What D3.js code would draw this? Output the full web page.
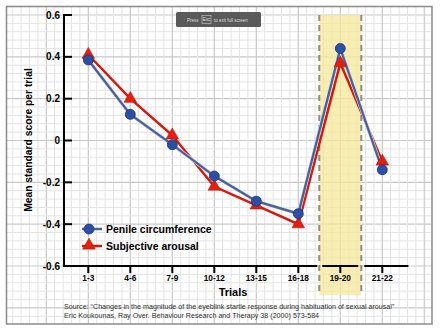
<!DOCTYPE html>
<html><head><meta charset="utf-8">
<script src="https://cdn.jsdelivr.net/npm/d3@7/dist/d3.min.js"></script>
<style>
html,body{margin:0;padding:0;background:#fff;}
svg{display:block;font-family:"Liberation Sans",Arial,sans-serif;}
</style></head>
<body>
<script>
const categories = ["1-3","4-6","7-9","10-12","13-15","16-18","19-20","21-22"];
const penile = [0.385, 0.125, -0.02, -0.17, -0.29, -0.35, 0.44, -0.14];
const subjective = [0.41, 0.20, 0.025, -0.22, -0.31, -0.40, 0.37, -0.10];
const yTicks = [0.6, 0.4, 0.2, 0, -0.2, -0.4, -0.6];
const seriesNames = ["Penile circumference", "Subjective arousal"];
const highlightIndex = 6;
const sourceLines = [
  "Source: \u201cChanges in the magnitude of the eyeblink startle response during habituation of sexual arousal\u201d",
  "Eric Koukounas, Ray Over. Behaviour Research and Therapy 38 (2000) 573-584"
];

const W = 443, H = 331;
const svg = d3.select("body").append("svg").attr("width", W).attr("height", H);

const x = d3.scaleLinear().domain([0, categories.length - 1]).range([88.3, 382.3]);
const y = d3.scaleLinear().domain([-0.6, 0.6]).range([266, 15]);
const step = x(1) - x(0);
const ystep = y(0) - y(0.2);

const fx0 = 6.5, fx1 = 432, fy0 = 6.5, fy1 = 324;
const grid = svg.append("g");
for (let k = -40; k <= 80; k++) {
  const gx = x(0) + k * step / 5;
  if (gx > fx0 && gx < fx1) grid.append("line").attr("x1", gx).attr("x2", gx).attr("y1", fy0).attr("y2", fy1)
    .attr("stroke", k % 5 === 0 ? "#c9c9c9" : "#e4e4e4").attr("stroke-width", k % 5 === 0 ? 1.2 : 1);
  const gy = y(0.6) + k * ystep / 5;
  if (gy > fy0 && gy < fy1) grid.append("line").attr("y1", gy).attr("y2", gy).attr("x1", fx0).attr("x2", fx1)
    .attr("stroke", k % 5 === 0 ? "#c9c9c9" : "#e4e4e4").attr("stroke-width", k % 5 === 0 ? 1.2 : 1);
}
svg.append("rect").attr("x", fx0).attr("y", fy0).attr("width", fx1 - fx0).attr("height", fy1 - fy0)
  .attr("fill", "none").attr("stroke", "#8a8a8a").attr("stroke-width", 1.5);

const bx0 = x(highlightIndex - 0.5), bx1 = x(highlightIndex + 0.5);
svg.append("rect").attr("x", bx0).attr("y", 15).attr("width", bx1 - bx0).attr("height", 280)
  .attr("fill", "#f6e89a").attr("opacity", 0.75);
[bx0, bx1].forEach(bx => svg.append("line").attr("x1", bx).attr("x2", bx).attr("y1", 15).attr("y2", 295)
  .attr("stroke", "#8c8c8c").attr("stroke-width", 2).attr("stroke-dasharray", "6,4"));

const ax = svg.append("g");
ax.append("line").attr("x1", 64).attr("x2", 64).attr("y1", y(0.6)).attr("y2", y(-0.6) + 1).attr("stroke", "#000").attr("stroke-width", 2);
const segs = [[64, x(5.5) - 2], [x(5.5) + 3, x(6.5) - 3], [x(6.5) + 3, x(7.62)]];
segs.forEach(s => ax.append("line").attr("x1", s[0]).attr("x2", s[1]).attr("y1", y(-0.6)).attr("y2", y(-0.6)).attr("stroke", "#000").attr("stroke-width", 2));
yTicks.forEach(t => {
  ax.append("line").attr("x1", 63).attr("x2", 72).attr("y1", y(t)).attr("y2", y(t)).attr("stroke", "#000").attr("stroke-width", 2);
  ax.append("text").attr("x", 60).attr("y", y(t) + 3.6).attr("text-anchor", "end")
    .attr("font-size", "10px").attr("font-weight", "bold").text(t === 0 ? "0" : t.toFixed(1));
});
categories.forEach((c, i) => {
  ax.append("line").attr("x1", x(i)).attr("x2", x(i)).attr("y1", y(-0.6)).attr("y2", y(-0.6) + 7).attr("stroke", "#000").attr("stroke-width", 2);
  ax.append("text").attr("x", x(i)).attr("y", 281).attr("text-anchor", "middle")
    .attr("font-size", "8.3px").attr("font-weight", "bold").text(c);
});
svg.append("text").attr("x", 233).attr("y", 296).attr("text-anchor", "middle")
  .attr("font-size", "11px").attr("font-weight", "bold").text("Trials");
svg.append("text").attr("transform", "translate(31.5,140) rotate(-90)").attr("text-anchor", "middle")
  .attr("font-size", "10.3px").attr("font-weight", "bold").text("Mean standard score per trial");

const line = d3.line().x((d, i) => x(i)).y(d => y(d));
svg.append("path").attr("d", line(subjective)).attr("fill", "none").attr("stroke", "#d41a10").attr("stroke-width", 2.5);
svg.append("path").attr("d", line(penile)).attr("fill", "none").attr("stroke", "#d6dbe8").attr("stroke-width", 3.6);
svg.append("path").attr("d", line(penile)).attr("fill", "none").attr("stroke", "#4b6298").attr("stroke-width", 2.3);
const tri = d3.symbol().type(d3.symbolTriangle).size(68);
svg.selectAll(".tri").data(subjective).enter().append("path")
  .attr("transform", (d, i) => `translate(${x(i)},${y(d)})`).attr("d", tri)
  .attr("fill", "#e3200f").attr("stroke", "#b8140a").attr("stroke-width", 0.6);
svg.selectAll(".dot").data(penile).enter().append("circle")
  .attr("cx", (d, i) => x(i)).attr("cy", d => y(d)).attr("r", 5)
  .attr("fill", "#2c4fa6").attr("stroke", "#1d3373").attr("stroke-width", 0.8);

const lg = svg.append("g");
lg.append("line").attr("x1", 82).attr("x2", 102).attr("y1", 229).attr("y2", 229).attr("stroke", "#4b6298").attr("stroke-width", 2.5);
lg.append("circle").attr("cx", 89).attr("cy", 229).attr("r", 5).attr("fill", "#2c4fa6").attr("stroke", "#1d3373").attr("stroke-width", 0.8);
lg.append("line").attr("x1", 82).attr("x2", 102).attr("y1", 246).attr("y2", 246).attr("stroke", "#d41a10").attr("stroke-width", 2.5);
lg.append("path").attr("transform", "translate(89,245.5)").attr("d", tri).attr("fill", "#e3200f").attr("stroke", "#b8140a").attr("stroke-width", 0.6);
lg.append("text").attr("x", 106).attr("y", 232.8).attr("font-size", "10.5px").attr("font-weight", "bold").text(seriesNames[0]);
lg.append("text").attr("x", 106).attr("y", 249.8).attr("font-size", "10.5px").attr("font-weight", "bold").text(seriesNames[1]);

sourceLines.forEach((s, i) => svg.append("text").attr("x", 64).attr("y", 309 + i * 8.5)
  .attr("font-size", "7.15px").attr("fill", "#333").text(s));

const ov = svg.append("g");
ov.append("rect").attr("x", 176).attr("y", 12).attr("width", 85).attr("height", 15).attr("rx", 1.5).attr("fill", "#5a5a5a");
ov.append("text").attr("x", 187).attr("y", 21.5).attr("font-size", "4.5px").attr("fill", "#ddd").text("Press");
ov.append("rect").attr("x", 202).attr("y", 15.5).attr("width", 9).attr("height", 8).attr("fill", "none").attr("stroke", "#ccc").attr("stroke-width", 0.6);
ov.append("text").attr("x", 206.5).attr("y", 21.3).attr("text-anchor", "middle").attr("font-size", "4.5px").attr("fill", "#ddd").text("Esc");
ov.append("text").attr("x", 214).attr("y", 21.5).attr("font-size", "4.5px").attr("fill", "#ddd").text("to exit full screen");
</script>
</body></html>
